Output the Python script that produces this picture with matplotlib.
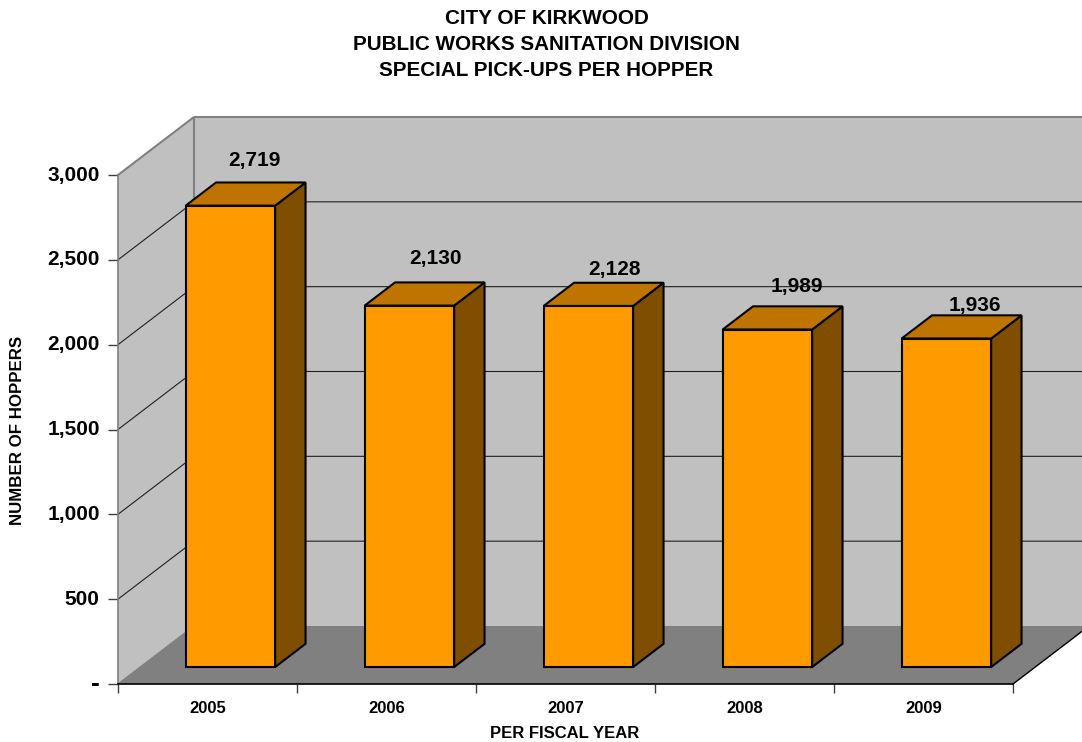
import matplotlib
matplotlib.use("Agg")
import matplotlib.pyplot as plt
from matplotlib.patches import Polygon

plt.rcParams['font.family'] = ['Liberation Sans', 'DejaVu Sans']
plt.rcParams['font.weight'] = 'bold'

title_lines = ["CITY OF KIRKWOOD", "PUBLIC WORKS SANITATION DIVISION", "SPECIAL PICK-UPS PER HOPPER"]
years = ["2005", "2006", "2007", "2008", "2009"]
hoppers = [2719, 2130, 2128, 1989, 1936]
y_ticks = [0, 500, 1000, 1500, 2000, 2500, 3000]
y_tick_labels = ["-", "500", "1,000", "1,500", "2,000", "2,500", "3,000"]
x_label = "PER FISCAL YEAR"
y_label = "NUMBER OF HOPPERS"
value_labels = ["2,719", "2,130", "2,128", "1,989", "1,936"]
# label displacement from the top-centre of each bar's front face (pixels)
label_dx_px = [24, 26, 26, 29, 28]
label_dy_px = [45, 47, 36, 43, 33]

W, H = 1082, 742
DPI = 100
L, R, B, T = 118, 1013, 684, 175      # front plane, pixels
DEPTH_X, DEPTH_Y = 76, 58             # oblique offset of the back plane, pixels
YMAX = 3000

fig = plt.figure(figsize=(W / DPI, H / DPI), dpi=DPI)
ax = fig.add_axes([L / W, (H - B) / H, (R - L) / W, (B - T) / H])
ncat = len(years)
ax.set_xlim(0, ncat)
ax.set_ylim(0, YMAX)
ax.patch.set_visible(False)

cat_px = (R - L) / ncat
val_px = (B - T) / YMAX
dxd = DEPTH_X / cat_px
dyd = DEPTH_Y / val_px


def P(x, v, d):
    """Oblique projection: category x, value v, depth d (0 front .. 1 back)."""
    return (x + d * dxd, v + d * dyd)


def face(pts, fc, ec, lw, z):
    ax.add_patch(Polygon(pts, closed=True, fc=fc, ec=ec, lw=lw, zorder=z,
                         clip_on=False, joinstyle='miter'))


WALL, FLOOR, EDGE = "#c0c0c0", "#808080", "#808080"
FLOOR_D = 0.98
# walls, then floor
face([P(0, 0, 0), P(0, YMAX, 0), P(0, YMAX, 1), P(0, 0, 1)], WALL, "none", 0, 1)
face([P(0, 0, 1), P(0, YMAX, 1), P(ncat, YMAX, 1), P(ncat, 0, 1)], WALL, "none", 0, 1)
face([P(0, 0, 0), P(ncat, 0, 0), P(ncat, 0, 1), P(0, 0, 1)], FLOOR, "none", 0, 1.2)
ax.plot([P(ncat, 0, 0)[0], P(ncat, 0, 1)[0]], [P(ncat, 0, 0)[1], P(ncat, 0, 1)[1]],
        color="black", lw=1, zorder=1.5, clip_on=False)

# wall outlines
for a, b in [(P(0, YMAX, 0), P(0, YMAX, 1)), (P(0, YMAX, 1), P(ncat, YMAX, 1)),
             (P(0, YMAX, 1), P(0, 0, 1))]:
    ax.plot([a[0], b[0]], [a[1], b[1]], color=EDGE, lw=1.5, zorder=2, clip_on=False,
            solid_capstyle='butt')
ax.plot([P(0, 0, 0)[0], P(0, 0, 1)[0]], [0, P(0, 0, 1)[1]], color=EDGE, lw=1, zorder=2, clip_on=False)

# gridlines on left and back walls
for v in y_ticks[1:-1]:
    a, b, c = P(0, v, 0), P(0, v, 1), P(ncat, v, 1)
    ax.plot([a[0], b[0], c[0]], [a[1], b[1], c[1]], color="#202020", lw=0.8, zorder=2.5,
            clip_on=False)

# bars
D0, D1 = 0.293, 0.693
GAP = 0.2535
BW = 0.5
for i, v in enumerate(hoppers):
    x0, x1 = i + GAP, i + GAP + BW
    face([P(x1, 0, D0), P(x1, v, D0), P(x1, v, D1), P(x1, 0, D1)], "#804e00", "black", 1.5, 3)
    face([P(x0, v, D0), P(x1, v, D0), P(x1, v, D1), P(x0, v, D1)], "#c07400", "black", 1.5, 3)
    face([P(x0, 0, D0), P(x1, 0, D0), P(x1, v, D0), P(x0, v, D0)], "#ff9a00", "black", 1.5, 4)
    ax.annotate(value_labels[i], xy=P((x0 + x1) / 2, v, D0),
                xytext=(label_dx_px[i] * 72 / DPI, label_dy_px[i] * 72 / DPI),
                textcoords="offset points", ha="center", va="center",
                fontsize=15, fontweight="bold", color="black", zorder=6,
                annotation_clip=False)

# axes
for s in ("top", "right"):
    ax.spines[s].set_visible(False)
ax.spines["left"].set_color("#808080")
ax.spines["left"].set_linewidth(1.2)
ax.spines["left"].set_zorder(2.6)
ax.spines["bottom"].set_color("black")
ax.spines["bottom"].set_linewidth(1.2)
ax.spines["bottom"].set_zorder(5)
ax.set_yticks(y_ticks)
ax.set_yticklabels(y_tick_labels, fontsize=15, fontweight="bold", va="center")
ax.tick_params(axis="y", length=10 * 72 / DPI, width=1, color="#404040", pad=6)
for lab in ax.get_yticklabels():
    lab.set_y(lab.get_position()[1])
ax.get_yticklabels()[0].set_fontsize(19)
ax.set_xticks(range(ncat + 1))
ax.set_xticklabels([])
ax.tick_params(axis="x", which="major", length=9 * 72 / DPI, width=1, color="#404040")
ax.set_xticks([i + 0.5 for i in range(ncat)], minor=True)
ax.set_xticklabels(years, minor=True, fontsize=12, fontweight="bold")
ax.tick_params(axis="x", which="minor", length=0, pad=12.5)

fig.text(565 / W, 1 - 733 / H, x_label, ha="center", va="center", fontsize=12, fontweight="bold")
fig.text(18 / W, 1 - 430 / H, y_label, rotation=90, ha="center", va="center", fontsize=12.2, fontweight="bold")
for line, yp in zip(title_lines, [19, 45, 71]):
    fig.text(546.5 / W, 1 - yp / H, line, ha="center", va="center", fontsize=14.9, fontweight="bold")

fig.savefig("out.png", dpi=DPI)
